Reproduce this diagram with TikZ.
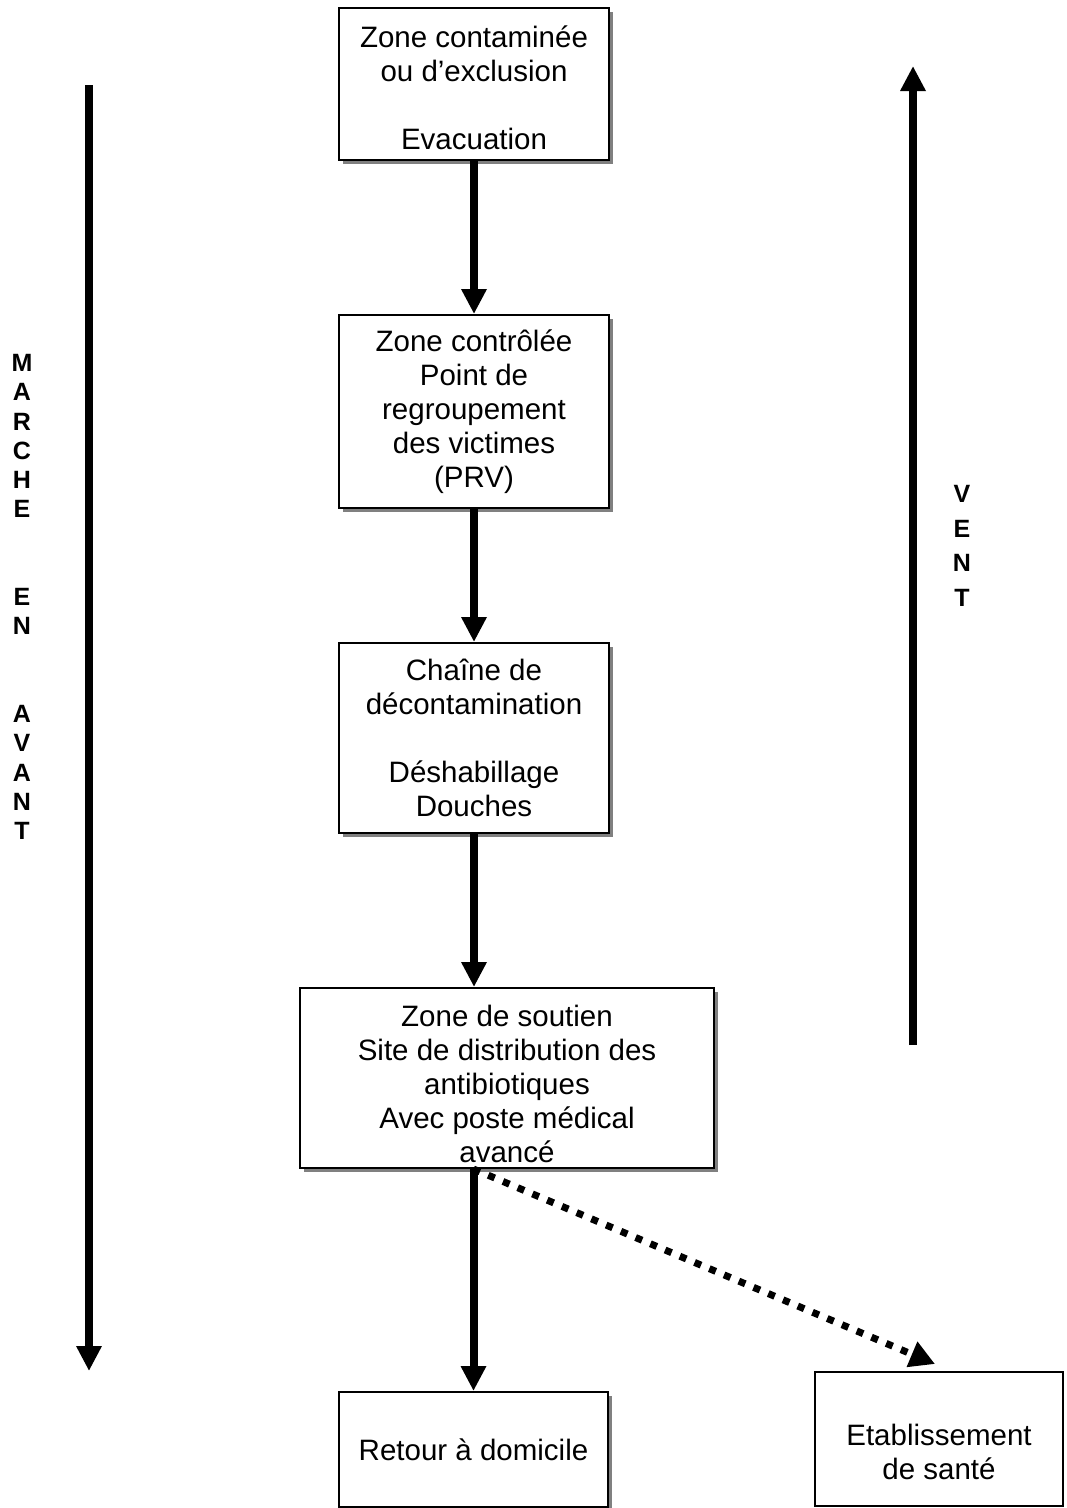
\documentclass[tikz,border=0pt]{standalone}
\usepackage{fontspec}
\setmainfont{Liberation Sans}
\usetikzlibrary{arrows.meta,shadows}
\begin{document}
\begin{tikzpicture}[x=1pt,y=-1pt,
  zone/.style={draw=black,line width=2pt,fill=white,rectangle,align=center,inner sep=0pt,
     font=\fontsize{29.5}{34}\selectfont,
     drop shadow={shadow xshift=4pt,shadow yshift=-4pt,fill=gray,opacity=1}},
  plainzone/.style={draw=black,line width=2pt,fill=white,rectangle,inner sep=0pt},
  boxtext/.style={align=center,inner sep=0pt,font=\fontsize{29.5}{34}\selectfont},
  flow/.style={line width=8pt,-{Triangle[length=25pt,width=24pt]}},
  dotflow/.style={line width=7pt,dash pattern=on 7pt off 9pt,-{Triangle[length=25pt,width=26pt]}},
  vlabel/.style={align=center,inner sep=0pt,font=\fontsize{25}{29.25}\selectfont\bfseries}
]
\useasboundingbox (0,0) rectangle (1067,1508);

\node[zone,minimum width=270pt,minimum height=152pt] (b1) at (474,84) {};
\node[boxtext] (b1t) at (474,87.5)
  {Zone contaminée\\ou d’exclusion\\\mbox{}\\Evacuation};
\node[zone,minimum width=270pt,minimum height=193pt] (b2) at (474,411.5)
  {Zone contrôlée\\Point de\\regroupement\\des victimes\\(PRV)};
\node[zone,minimum width=270pt,minimum height=190pt] (b3) at (474,738)
  {Chaîne de\\décontamination\\\mbox{}\\Déshabillage\\Douches};
\node[zone,minimum width=414pt,minimum height=180pt] (b4) at (507,1078) {};
\node[boxtext] (b4t) at (507,1084)
  {Zone de soutien\\Site de distribution des\\antibiotiques\\Avec poste médical\\avancé};
\node[zone,minimum width=269pt,minimum height=115pt] (b5) at (473.5,1449.5)
  {Retour à domicile};
\node[plainzone,minimum width=248pt,minimum height=134pt] (b6) at (939,1439) {};
\node[boxtext] (b6t) at (939,1452) {Etablissement\\de santé};

\draw[flow] (b1.south) -- (b2.north);
\draw[flow] (b2.south) -- (b3.north);
\draw[flow] (b3.south) -- (b3.south |- b4.north);
\coordinate (b4out) at (b4.south -| b5.north);
\draw[flow] (b4out) -- (b5.north);
\coordinate (dend) at (935,1364);
\draw[dotflow] (b4out) -- (dend);

\coordinate (ltop) at (89,85);
\coordinate (lbot) at (89,1371);
\draw[flow] (ltop) -- (lbot);
\coordinate (rbot) at (913,1045);
\coordinate (rtop) at (913,66);
\draw[flow] (rbot) -- (rtop);

\node[vlabel] (march) at (22,597)
  {M\\A\\R\\C\\H\\E\\\mbox{}\\\mbox{}\\E\\N\\\mbox{}\\\mbox{}\\A\\V\\A\\N\\T};
\node[vlabel,font=\fontsize{25}{34.5}\selectfont\bfseries] (vent) at (962,546)
  {V\\E\\N\\T};
\end{tikzpicture}
\end{document}
